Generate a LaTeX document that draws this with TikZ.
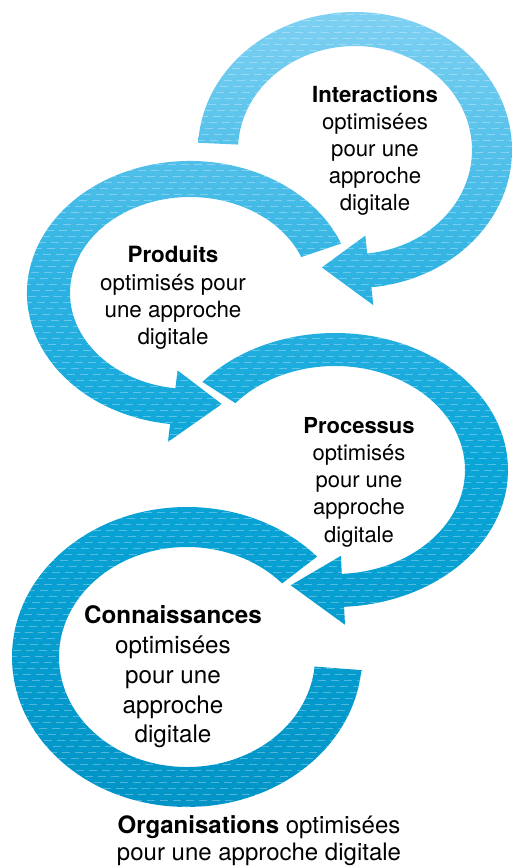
\documentclass[tikz,border=0pt]{standalone}
\usepackage{fontspec}
\setmainfont{TeX Gyre Heros}
\definecolor{ringtop}{RGB}{130,210,243}
\definecolor{ringmid}{RGB}{45,178,226}
\definecolor{ringlow}{RGB}{10,165,215}
\definecolor{ringbot}{RGB}{0,145,196}
% light blue at the top, deep blue at the bottom of the page
\pgfdeclareverticalshading{ringgrad}{100bp}{color(0bp)=(ringbot); color(25bp)=(ringbot);
  color(48.5bp)=(ringlow); color(58.9bp)=(ringmid); color(75bp)=(ringtop); color(100bp)=(ringtop)}
\tikzset{
  ringstripe/.style={white, opacity=0.3, line width=1pt, dash pattern=on 8pt off 5pt},
  boxtext/.style={align=center, inner sep=0pt, text=black}
}
% shade a closed path and lay thin light dashes over it
\newcommand{\ringfill}[1]{%
  \begin{scope}
    \clip #1;
    \shade[shading=ringgrad] (0,0) rectangle (513,-868);
    \foreach \sy in {2,8,...,868}
      \draw[ringstripe, dash phase={mod(\sy*5,13)}] (0,-\sy) -- (513,-\sy);
  \end{scope}}

\begin{document}
\begin{tikzpicture}[x=1pt, y=1pt]
    \useasboundingbox (0,0) rectangle (513,-868);
    % ring arrows: centre, outer radii, inner radii, tail angle, head angle, tip angle
    \foreach \cx/\cy/\Rx/\Ry/\rx/\ry/\ts/\te/\tp in {
        355/-150/157/138/117/104/177/-84/-104,
        190/-293/163/132/120/96/22/263/283,
        335/-470/173/137/130/104/140/-87/-107}{
      \pgfmathsetmacro\hRx{\Rx+18}
      \pgfmathsetmacro\hRy{\Ry+18}
      \pgfmathsetmacro\hrx{\rx-18}
      \pgfmathsetmacro\hry{\ry-18}
      \pgfmathsetmacro\mrx{(\Rx+\rx)/2}
      \pgfmathsetmacro\mry{(\Ry+\ry)/2}
      \ringfill{[shift={(\cx,\cy)}] (\ts:{\Rx} and {\Ry})
        arc[start angle=\ts, end angle=\te, x radius=\Rx, y radius=\Ry]
        -- (\te:{\hRx} and {\hRy}) -- (\tp:{\mrx} and {\mry}) -- (\te:{\hrx} and {\hry})
        -- (\te:{\rx} and {\ry})
        arc[start angle=\te, end angle=\ts, x radius=\rx, y radius=\ry] -- cycle}
    }
    % last ring has no head
    \ringfill{[shift={(187,-657)}] (42:175 and 150)
      arc[start angle=42, end angle=355, x radius=175, y radius=150]
      -- (355:128 and 110)
      arc[start angle=355, end angle=42, x radius=128, y radius=110] -- cycle}

    \node[boxtext, font=\fontsize{22.2}{27}\selectfont] (interactions) at (375,-151)
      {\textbf{Interactions}\\optimisées\\pour une\\approche\\digitale};
    \node[boxtext, font=\fontsize{22.4}{27.3}\selectfont] (produits) at (173,-298)
      {\textbf{Produits}\\optimisés pour\\une approche\\digitale};
    \node[boxtext, font=\fontsize{22}{27.2}\selectfont] (processus) at (359,-482)
      {\textbf{Processus}\\optimisés\\pour une\\approche\\digitale};
    \node[boxtext, font=\fontsize{24.2}{29.75}\selectfont] (connaissances) at (173,-677)
      {\textbf{Connaissances}\\optimisées\\pour une\\approche\\digitale};
    \node[boxtext, font=\fontsize{24}{27}\selectfont] (organisations) at (259,-841)
      {\textbf{Organisations} optimisées\\pour une approche digitale};
\end{tikzpicture}
\end{document}
